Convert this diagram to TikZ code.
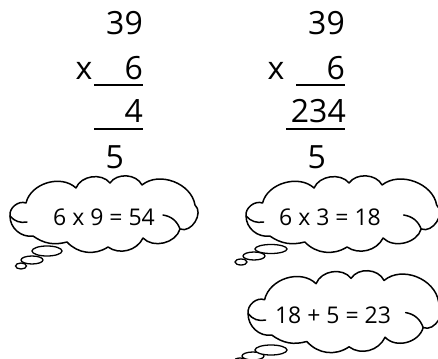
\documentclass[tikz,border=0pt]{standalone}
\usepackage{fontspec}
\setmainfont{Open Sans}
\begin{document}
\begin{tikzpicture}[x=1pt,y=-1pt,
  big/.style={font=\fontsize{32}{32}\selectfont, inner sep=0pt, anchor=base east},
  bigc/.style={font=\fontsize{32}{32}\selectfont, inner sep=0pt, anchor=base},
  rulel/.style={line width=2.4pt},
  thought/.style={font=\fontsize{23}{23}\selectfont, inner sep=0pt, anchor=base},
  cloudline/.style={draw=black, fill=white, line width=1.5pt, line join=round},
  tail/.style={draw=black, fill=white, line width=1.3pt},
  curl/.style={draw=black, line width=1.5pt, line cap=round},
  pics/thinkcloud/.style={code={
    \path[cloudline] (10,216) to[bend left=60] (26,203) to[bend left=60] (76,188)
      to[bend left=60] (110,183) to[bend left=60] (142,185) to[bend left=60] (195,205)
      to[bend left=80, looseness=1.1] (180,229) to[bend left=60] (143,238)
      to[bend left=50] (108,247) to[bend left=40] (67,242) to[bend left=25] (33,236)
      to[bend left=50] (10,216) -- cycle;
    \path[curl] (10,216) to[bend right=30] (27,222);
    \path[curl] (180,229) to[bend right=30] (163,215);
  }}]
\useasboundingbox (0,0) rectangle (438,358);
\clip (0,0) rectangle (438,358);

% left column
\node[big]  (a39) at (143,35) {39};
\node[bigc] (ax)  at (84,80) {x};
\node[big]  (a6)  at (143,80) {6};
\coordinate (ar1s) at (94,85); \coordinate (ar1e) at (143,85);
\draw[rulel] (ar1s) -- (ar1e);
\node[big]  (a4)  at (143,123) {4};
\coordinate (ar2s) at (94,129); \coordinate (ar2e) at (143,129);
\draw[rulel] (ar2s) -- (ar2e);
\node[big]  (a5)  at (124,168) {5};

% right column
\node[big]  (b39) at (345,35) {39};
\node[bigc] (bx)  at (276,80) {x};
\node[big]  (b6)  at (345,80) {6};
\coordinate (br1s) at (296,85); \coordinate (br1e) at (345,85);
\draw[rulel] (br1s) -- (br1e);
\node[big]  (b234) at (346,123) {234};
\coordinate (br2s) at (286,129); \coordinate (br2e) at (345,129);
\draw[rulel] (br2s) -- (br2e);
\node[big]  (b5)  at (326,168) {5};

% cloud 1
\draw[tail] (21,266) ellipse [x radius=5.5, y radius=3];
\draw[tail] (32,260) ellipse [x radius=11, y radius=4];
\draw[tail] (47,251) ellipse [x radius=15, y radius=5];
\pic {thinkcloud};
\node[thought] (t1) at (104,225) {6 x 9 = 54};

% cloud 2
\draw[tail] (241,262) ellipse [x radius=6, y radius=3];
\draw[tail] (254,256) ellipse [x radius=11, y radius=4];
\draw[tail] (271,249) ellipse [x radius=16, y radius=4.5];
\pic[transform shape, shift={(243,0)}, xscale=1.03, shift={(-7,0)}] {thinkcloud};
\node[thought] (t2) at (330,225) {6 x 3 = 18};

% cloud 3
\draw[tail] (240,361) ellipse [x radius=6, y radius=3];
\draw[tail] (253,356) ellipse [x radius=11, y radius=4];
\draw[tail] (271,350) ellipse [x radius=16, y radius=5];
\pic[transform shape, shift={(245,273)}, xscale=1.03, yscale=1.07, shift={(-7,-178)}] {thinkcloud};
\node[thought] (t3) at (333,323) {18 + 5 = 23};
\end{tikzpicture}
\end{document}
